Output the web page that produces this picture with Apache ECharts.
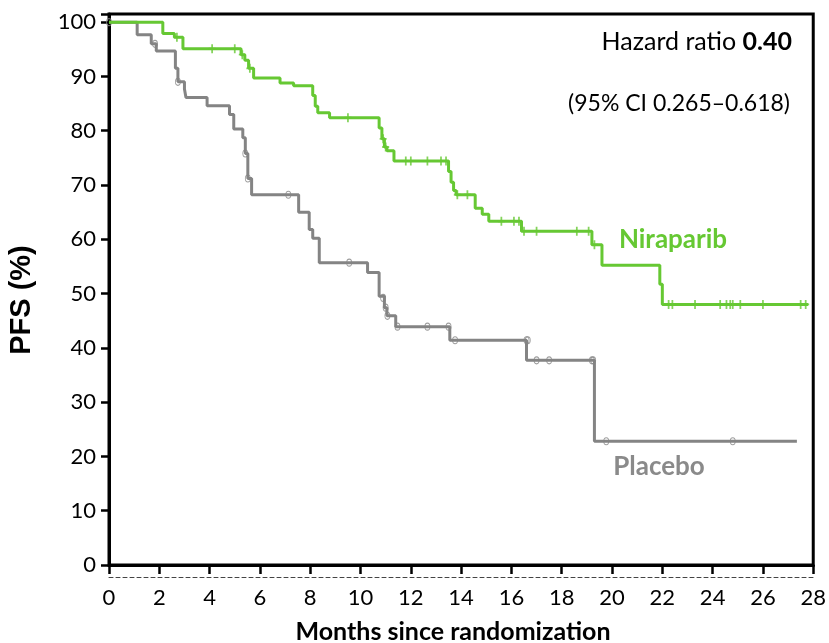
<!DOCTYPE html>
<html>
<head>
<meta charset="utf-8">
<script src="https://cdn.jsdelivr.net/npm/echarts@6/dist/echarts.min.js"></script>
<style>
html,body{margin:0;padding:0;background:#fff;}
#chart{width:829px;height:643px;}
</style>
</head>
<body>
<div id="chart"></div>
<script>
// Kaplan-Meier steps: [months, PFS %] (value after each event)
const niraparibSteps = [
  [0,100],[2.14,97.9],[2.6,97.2],[2.94,95.1],
  [5.25,94.0],[5.4,93.0],[5.55,91.5],[5.75,89.7],
  [6.8,88.8],[7.34,88.3],
  [8.1,86.5],[8.2,84.5],[8.3,83.3],[8.77,82.4],
  [10.74,80.5],[10.85,78.5],[10.95,77.0],[11.05,76.3],[11.33,74.4],
  [13.5,72.5],[13.6,70.5],[13.7,69.0],[13.8,68.2],
  [14.56,65.7],[14.84,64.6],[15.1,63.3],
  [16.4,61.5],[19.2,59.0],[19.6,55.2],
  [21.9,51.7],[22.0,48.0],[27.8,48.0]
];
const niraparibCensored = [
  [2.7,97.2],[4.1,95.1],[5.0,95.1],[5.3,94.0],[5.6,91.5],[9.5,82.4],[10.9,78.5],[11.0,77.0],
  [11.8,74.4],[12.0,74.4],[12.66,74.4],[13.2,74.4],[13.4,74.4],
  [13.85,68.2],[14.25,68.2],[15.6,63.3],[16.1,63.3],[16.3,63.3],
  [16.5,61.5],[17.0,61.5],[18.6,61.5],[19.07,61.5],[19.3,59.0],
  [22.25,48.0],[22.4,48.0],[23.3,48.0],[24.3,48.0],[24.55,48.0],[24.7,48.0],
  [24.8,48.0],[25.1,48.0],[26.0,48.0],[27.5,48.0],[27.7,48.0]
];
const placeboSteps = [
  [0,100],[1.12,97.7],[1.68,96.0],[1.88,94.7],
  [2.64,91.5],[2.74,89.0],[3.0,87.7],[3.06,86.1],
  [3.9,84.6],[4.79,83.0],[4.96,80.3],[5.32,78.7],[5.42,75.8],[5.52,71.2],[5.67,68.2],
  [7.54,65.0],[7.96,61.8],[8.1,60.2],[8.36,55.7],
  [10.28,53.9],[10.74,49.5],[10.95,47.4],[11.05,45.9],[11.4,43.9],
  [13.55,41.4],[16.6,37.7],[19.3,22.8],[27.35,22.8]
];
const placeboCensored = [
  [0,100],[1.83,96.0],[2.74,89.0],[5.42,75.8],[5.52,71.2],[7.13,68.2],[9.55,55.7],
  [10.9,49.2],[11.0,47.4],[11.07,45.9],[11.47,43.9],[12.66,43.9],[13.5,43.9],
  [13.76,41.4],[16.6,41.4],[16.65,41.4],[17.0,37.7],[17.5,37.7],[19.2,37.7],[19.25,37.7],
  [19.77,22.8],[24.8,22.8]
];
const xTicks = {min:0, max:28, interval:2};
const yTicks = {min:0, max:101.5, interval:10};
const yTickLabels = [0,10,20,30,40,50,60,70,80,90,100];
const seriesNames = ['Niraparib','Placebo'];
const hazardText = ['Hazard ratio ', '0.40'];
const ciText = '(95% CI 0.265\u20130.618)';
const xTitle = 'Months since randomization';
const yTitle = 'PFS (%)';

const GREEN = '#66c833';
const GRAY = '#848484';
const FONT = 'Lato';

const chart = echarts.init(document.getElementById('chart'), null, {renderer:'canvas'});
const plusPath = 'path://M3,0h2v4h3v2h-3v4h-2v-4h-3v-2h3z';

chart.setOption({
  animation:false,
  backgroundColor:'#fff',
  grid:{left:109, right:12, top:14, bottom:78, show:true, borderColor:'#000', borderWidth:3, backgroundColor:'transparent'},
  xAxis:[
    {type:'value', min:xTicks.min, max:xTicks.max, interval:xTicks.interval, position:'bottom',
     axisLine:{show:true, lineStyle:{color:'#000', width:3}},
     axisTick:{show:true, inside:false, length:9, lineStyle:{color:'#000', width:2.5}},
     axisLabel:{show:false}, splitLine:{show:false}},
    {type:'value', min:xTicks.min, max:xTicks.max, interval:xTicks.interval, position:'bottom', offset:12,
     axisLine:{show:true, lineStyle:{color:'#444', width:1, type:[4,3]}},
     axisTick:{show:false},
     axisLabel:{show:true, margin:10, fontFamily:FONT, fontSize:22, color:'#000'},
     splitLine:{show:false}}
  ],
  yAxis:{type:'value', min:yTicks.min, max:yTicks.max, interval:yTicks.interval,
     axisLine:{show:true, lineStyle:{color:'#000', width:3}},
     axisTick:{show:true, inside:false, length:8, lineStyle:{color:'#000', width:2.5}},
     axisLabel:{margin:13, fontFamily:FONT, fontSize:22, color:'#000',
       formatter:function(v){ return yTickLabels.indexOf(v) >= 0 ? String(v) : ''; }},
     splitLine:{show:false}},
  series:[
    {name:seriesNames[1], type:'line', step:'end', data:placeboSteps, xAxisIndex:0,
     showSymbol:false, symbol:'none', lineStyle:{color:GRAY, width:3}, z:3},
    {name:seriesNames[1]+' censored', type:'scatter', data:placeboCensored, xAxisIndex:0,
     symbol:'circle', symbolSize:[5,7], itemStyle:{color:'rgba(255,255,255,0)', borderColor:GRAY, borderWidth:1}, z:4},
    {name:seriesNames[0], type:'line', step:'end', data:niraparibSteps, xAxisIndex:0,
     showSymbol:false, symbol:'none', lineStyle:{color:GREEN, width:3}, z:5},
    {name:seriesNames[0]+' censored', type:'scatter', data:niraparibCensored, xAxisIndex:0,
     symbol:plusPath, symbolSize:[7,9], itemStyle:{color:GREEN}, z:6}
  ],
  graphic:[
    {type:'text', x:792, y:42,
     style:{text:'{n|'+hazardText[0]+'}{b|'+hazardText[1]+'}', align:'right', verticalAlign:'middle',
       rich:{n:{fontFamily:FONT, fontSize:25, fill:'#000'}, b:{fontFamily:FONT, fontSize:25, fontWeight:'bold', fill:'#000'}}}},
    {type:'text', x:790, y:104,
     style:{text:ciText, fontFamily:FONT, fontSize:23, fill:'#000', align:'right', verticalAlign:'middle'}},
    {type:'text', x:673, y:240,
     style:{text:seriesNames[0], fontFamily:FONT, fontSize:26, fontWeight:'bold', fill:GREEN, align:'center', verticalAlign:'middle'}},
    {type:'text', x:659, y:467,
     style:{text:seriesNames[1], fontFamily:FONT, fontSize:26, fontWeight:'bold', fill:'#8a8a8a', align:'center', verticalAlign:'middle'}},
    {type:'text', x:453, y:632,
     style:{text:xTitle, fontFamily:FONT, fontSize:25, fontWeight:'bold', fill:'#000', align:'center', verticalAlign:'middle'}},
    {type:'text', x:22, y:300, rotation:Math.PI/2,
     style:{text:yTitle, fontFamily:'Liberation Sans', fontSize:29, fontWeight:'bold', fill:'#000', align:'center', verticalAlign:'middle'}}
  ]
});
</script>
</body>
</html>
